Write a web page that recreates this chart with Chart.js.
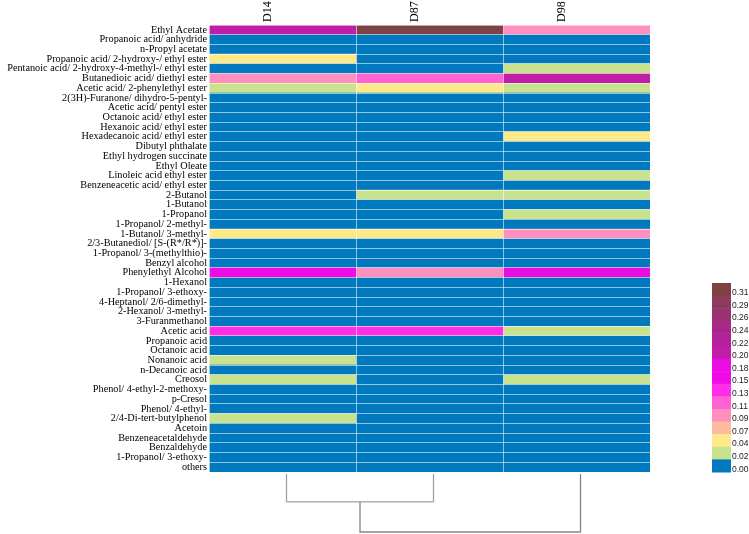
<!DOCTYPE html>
<html>
<head>
<meta charset="utf-8">
<script src="https://cdn.jsdelivr.net/npm/chart.js@4.4.0/dist/chart.umd.min.js"></script>
<style>
  body { margin: 0; background: #fff; }
  #wrap { width: 749px; height: 534px; }
</style>
</head>
<body>
<div id="wrap"><canvas id="heat"></canvas></div>
<script>
var samples = ['D14', 'D87', 'D98']

var compounds = [
  'Ethyl Acetate', 'Propanoic acid/ anhydride', 'n-Propyl acetate',
  'Propanoic acid/ 2-hydroxy-/ ethyl ester', 'Pentanoic acid/ 2-hydroxy-4-methyl-/ ethyl ester',
  'Butanedioic acid/ diethyl ester', 'Acetic acid/ 2-phenylethyl ester',
  '2(3H)-Furanone/ dihydro-5-pentyl-', 'Acetic acid/ pentyl ester', 'Octanoic acid/ ethyl ester',
  'Hexanoic acid/ ethyl ester', 'Hexadecanoic acid/ ethyl ester', 'Dibutyl phthalate',
  'Ethyl hydrogen succinate', 'Ethyl Oleate', 'Linoleic acid ethyl ester',
  'Benzeneacetic acid/ ethyl ester', '2-Butanol', '1-Butanol', '1-Propanol',
  '1-Propanol/ 2-methyl-', '1-Butanol/ 3-methyl-', '2/3-Butanediol/ [S-(R*/R*)]-',
  '1-Propanol/ 3-(methylthio)-', 'Benzyl alcohol', 'Phenylethyl Alcohol', '1-Hexanol',
  '1-Propanol/ 3-ethoxy-', '4-Heptanol/ 2/6-dimethyl-', '2-Hexanol/ 3-methyl-',
  '3-Furanmethanol', 'Acetic acid', 'Propanoic acid', 'Octanoic acid', 'Nonanoic acid',
  'n-Decanoic acid', 'Creosol', 'Phenol/ 4-ethyl-2-methoxy-', 'p-Cresol', 'Phenol/ 4-ethyl-',
  '2/4-Di-tert-butylphenol', 'Acetoin', 'Benzeneacetaldehyde', 'Benzaldehyde',
  '1-Propanol/ 3-ethoxy-', 'others'
]

var d14 = [0.20, 0, 0, 0.04, 0, 0.09, 0.02, 0, 0, 0, 0, 0, 0, 0, 0, 0, 0, 0, 0, 0, 0, 0.04, 0, 0, 0,
  0.16, 0, 0, 0, 0, 0, 0.13, 0, 0, 0.02, 0, 0.02, 0, 0, 0, 0.02, 0, 0, 0, 0, 0]
var d87 = [0.31, 0, 0, 0, 0, 0.11, 0.04, 0, 0, 0, 0, 0, 0, 0, 0, 0, 0, 0.02, 0, 0, 0, 0.04, 0, 0, 0,
  0.09, 0, 0, 0, 0, 0, 0.13, 0, 0, 0, 0, 0, 0, 0, 0, 0, 0, 0, 0, 0, 0]
var d98 = [0.09, 0, 0, 0, 0.02, 0.20, 0.02, 0, 0, 0, 0, 0.04, 0, 0, 0, 0.02, 0, 0.02, 0, 0.02, 0, 0.09, 0, 0, 0,
  0.17, 0, 0, 0, 0, 0, 0.02, 0, 0, 0, 0, 0.02, 0, 0, 0, 0, 0, 0, 0, 0, 0]

// colour key, low to high
var keyLabels = ['0.00', '0.02', '0.04', '0.07', '0.09', '0.11', '0.13', '0.15',
  '0.18', '0.20', '0.22', '0.24', '0.26', '0.29', '0.31']
var keyColors = ['#0079be', '#c9e28e', '#fde98a', '#fdbb9e', '#ff8fbf', '#ff62d2', '#ff2de6', '#f00ae8',
  '#e90ce3', '#c01ea8', '#b5209c', '#a62a85', '#9a3170', '#8c3a5e', '#7f4242']
var keyMax = 0.31

// dendrogram merge heights (D14+D87, then with D98)
var mergeHeights = [0.48, 1.0]

var values = [d14, d87, d98]

function cellColor(v) {
  var step = keyMax / (keyColors.length - 1)
  var i = Math.round(v / step)
  if (i < 0) i = 0
  if (i > keyColors.length - 1) i = keyColors.length - 1
  return keyColors[i]
}

var extras = {
  id: 'extras',
  afterDraw: function(chart) {
    var ctx = chart.ctx
    var area = chart.chartArea
    ctx.save()

    // colour key
    var kx = 712, kw = 19, ktop = 283, kh = 12.6
    var n = keyColors.length
    ctx.font = '8.5px "Liberation Sans", Arial, sans-serif'
    ctx.textBaseline = 'middle'
    ctx.textAlign = 'left'
    for (var i = 0; i < n; i++) {
      var k = n - 1 - i
      var y = ktop + i * kh
      ctx.fillStyle = keyColors[k]
      ctx.fillRect(kx, y, kw, kh + 0.5)
      ctx.fillStyle = '#222'
      ctx.fillText(keyLabels[k], kx + kw + 1, y + kh / 2 + 3.5)
    }

    // dendrogram below the heatmap
    var xs = chart.scales.x
    var leaf = samples.map(function(s, j) { return xs.getPixelForValue(j + 0.5) + 4 })
    var base = area.bottom + 2
    var unit = 58
    var y1 = base + mergeHeights[0] * unit
    var y2 = base + mergeHeights[1] * unit
    var mid = (leaf[0] + leaf[1]) / 2

    ctx.lineWidth = 1.3
    ctx.strokeStyle = '#a0a0a0'
    ctx.beginPath()
    ctx.moveTo(leaf[0], base); ctx.lineTo(leaf[0], y1); ctx.lineTo(leaf[1], y1); ctx.lineTo(leaf[1], base)
    ctx.stroke()

    ctx.strokeStyle = '#858585'
    ctx.beginPath()
    ctx.moveTo(mid, y1); ctx.lineTo(mid, y2); ctx.lineTo(leaf[2], y2); ctx.lineTo(leaf[2], base)
    ctx.stroke()

    ctx.restore()
  }
}

var gridColor = 'rgba(255,255,255,0.55)'

new Chart(document.getElementById('heat'), {
  type: 'bar',
  data: {
    labels: compounds,
    datasets: samples.map(function(s, j) {
      return {
        label: s,
        data: values[j].map(function() { return [j, j + 1] }),
        backgroundColor: values[j].map(cellColor),
        borderWidth: 0,
        grouped: false,
        barPercentage: 1,
        categoryPercentage: 1
      }
    })
  },
  options: {
    indexAxis: 'y',
    responsive: true,
    maintainAspectRatio: false,
    animation: false,
    layout: { padding: { left: 0, top: 0, right: 99, bottom: 62 } },
    plugins: {
      legend: { display: false },
      tooltip: { enabled: false }
    },
    scales: {
      x: {
        type: 'linear',
        min: 0,
        max: 3,
        position: 'bottom',
        ticks: { display: false, stepSize: 1 },
        grid: { z: 1, color: gridColor, drawTicks: false },
        border: { display: false },
        afterFit: function(s) { s.height = 0 }
      },
      cols: {
        type: 'category',
        labels: samples,
        position: 'top',
        offset: true,
        grid: { display: false, drawTicks: false },
        border: { display: false },
        ticks: {
          minRotation: 90,
          maxRotation: 90,
          padding: 3,
          color: '#000',
          font: { family: '"Liberation Serif", "Times New Roman", serif', size: 12 }
        },
        afterFit: function(s) { s.height = 25 }
      },
      y: {
        type: 'category',
        ticks: {
          autoSkip: false,
          padding: 2,
          color: '#000',
          font: { family: '"Liberation Serif", "Times New Roman", serif', size: 10.25 }
        },
        grid: { z: 1, color: gridColor, drawTicks: false },
        border: { display: false },
        afterFit: function(s) { s.width = 209 }
      }
    }
  },
  plugins: [extras]
})
</script>
</body>
</html>
